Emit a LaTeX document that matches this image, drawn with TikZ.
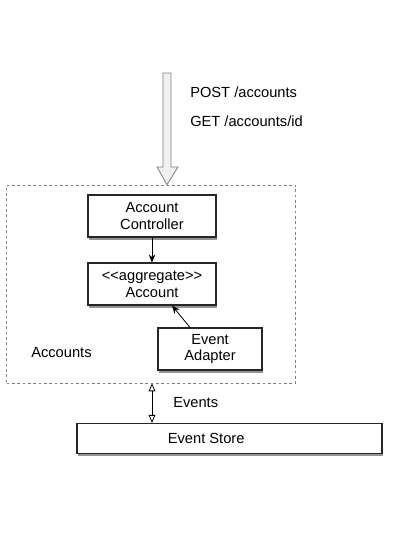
\documentclass[tikz,border=0pt]{standalone}
\usepackage{fontspec}
\setmainfont{Liberation Sans}
\usetikzlibrary{shadows,arrows.meta}

\tikzset{
    compbox/.style={draw=black!85, thick, fill=white, align=center, inner sep=1pt,
        drop shadow={shadow xshift=1pt, shadow yshift=-2.2pt, opacity=0.6, fill=black!70}},
    plain/.style={inner sep=0pt, anchor=west}
}

\begin{document}
\begin{tikzpicture}[x=0.75pt, y=-0.75pt, font=\fontsize{11}{12.5}\selectfont]
    \useasboundingbox (0,0) rectangle (411,548);
    % bounded context
    \node (ctx) [draw=gray, dash pattern=on 2pt off 2pt, minimum width=216.75pt, minimum height=148.5pt] at (151,284) {};
    \node (ctxname) [plain] at (31,353) {Accounts};
    % components
    \node (ctrl) [compbox, minimum width=96pt, minimum height=31.5pt] at (152,216) {Account\\Controller};
    \node (account) [compbox, minimum width=96pt, minimum height=31.5pt] at (152,284) {{<}{<}aggregate{>}{>}\\Account};
    \node (adapter) [compbox, minimum width=78pt, minimum height=31.5pt] at (210,349) {Event\\Adapter};
    \node (store) [compbox, minimum width=228.75pt, minimum height=22.5pt,
        label={[xshift=-17.5pt]center:Event Store}] at (229.5,438.5) {};
    % requests
    \coordinate (req) at (167,73);
    \draw[gray, fill=gray!12, line width=0.6pt] (163,73) -- (171,73) -- (171,167) -- (178,167)
        -- (ctx.north -| req) -- (157,167) -- (163,167) -- cycle;
    \node (post) [plain] at (190,92) {POST /accounts};
    \node (get) [plain] at (190,121) {GET /accounts/id};
    % connectors
    \draw[-{Stealth[length=6pt,width=5pt]}, semithick] (ctrl) -- (account);
    \draw[-{Stealth[length=6pt,width=5pt]}, semithick] ([xshift=-15pt]adapter.north) -- ([xshift=15pt]account.south);
    \draw[{Triangle[open,length=6pt,width=5pt]}-{Triangle[open,length=6pt,width=5pt]}, semithick]
        (ctx.south -| ctrl) -- (store.north -| ctrl);
    \node (events) [plain] at (173,403) {Events};
\end{tikzpicture}
\end{document}
